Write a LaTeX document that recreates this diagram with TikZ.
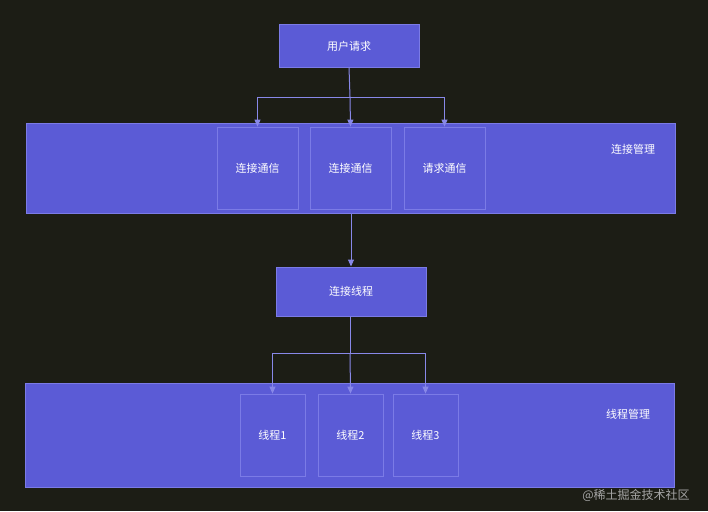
\documentclass[tikz,border=0pt]{standalone}
\usepackage{fontspec}
\setmainfont{Noto Sans CJK SC}
\usetikzlibrary{arrows.meta}
\definecolor{bg}{HTML}{1C1D15}
\definecolor{boxf}{HTML}{5B5BD6}
\definecolor{boxd}{HTML}{7B7BE6}
\definecolor{ln}{HTML}{8888E8}
\begin{document}
\begin{tikzpicture}[x=1pt,y=-1pt,
 box/.style={draw=boxd,fill=boxf,line width=1pt,text=white,font=\fontsize{11}{13}\selectfont},
 inner/.style={draw=boxd,line width=0.8pt,text=white,font=\fontsize{11}{13}\selectfont},
 lbl/.style={text=white,font=\fontsize{11}{13}\selectfont},
 arr/.style={draw=ln,line width=1pt,-{Triangle[length=7pt,width=6pt]}},
 lin/.style={draw=ln,line width=1pt}]
\fill[bg] (0,0) rectangle (708,511);
\useasboundingbox (0,0) rectangle (708,511);
\node[box,minimum width=140pt,minimum height=42pt] (req) at (349,46) {用户请求};
\node[box,minimum width=649pt,minimum height=90pt] (cm) at (350.5,168) {};
\node[lbl] (cml) at (633,149) {连接管理};
\node[inner,minimum width=81pt,minimum height=82pt] (c1) at (257.5,168) {连接通信};
\node[inner,minimum width=81pt,minimum height=82pt] (c2) at (350.5,168) {连接通信};
\node[inner,minimum width=81pt,minimum height=82pt] (c3) at (444.5,168) {请求通信};
\coordinate (s1) at (350,97);
\draw[lin] (req.south) -- (s1);
\draw[arr] (s1) -| (c1.north);
\draw[arr] (s1) -- (c2.north);
\draw[arr] (s1) -| (c3.north);
\node[box,minimum width=150pt,minimum height=49pt] (th) at (351,291.5) {连接线程};
\draw[arr] (cm.south -| th.north) -- (th.north);
\node[box,minimum width=649pt,minimum height=104pt] (tm) at (349.5,435) {};
\node[lbl] (tml) at (628,414) {线程管理};
\node[inner,minimum width=65pt,minimum height=82pt] (t1) at (272.5,435) {线程1};
\node[inner,minimum width=65pt,minimum height=82pt] (t2) at (350.5,435) {线程2};
\node[inner,minimum width=65pt,minimum height=82pt] (t3) at (425.5,435) {线程3};
\coordinate (s2) at (350,353);
\draw[lin] (th.south -| s2) -- (s2);
\draw[arr] (s2) -| (t1.north);
\draw[arr] (s2) -- (t2.north);
\draw[arr] (s2) -| (t3.north);
\node[text=gray!70,font=\fontsize{12}{14}\selectfont] (wm) at (636,495) {@稀土掘金技术社区};
\end{tikzpicture}
\end{document}
